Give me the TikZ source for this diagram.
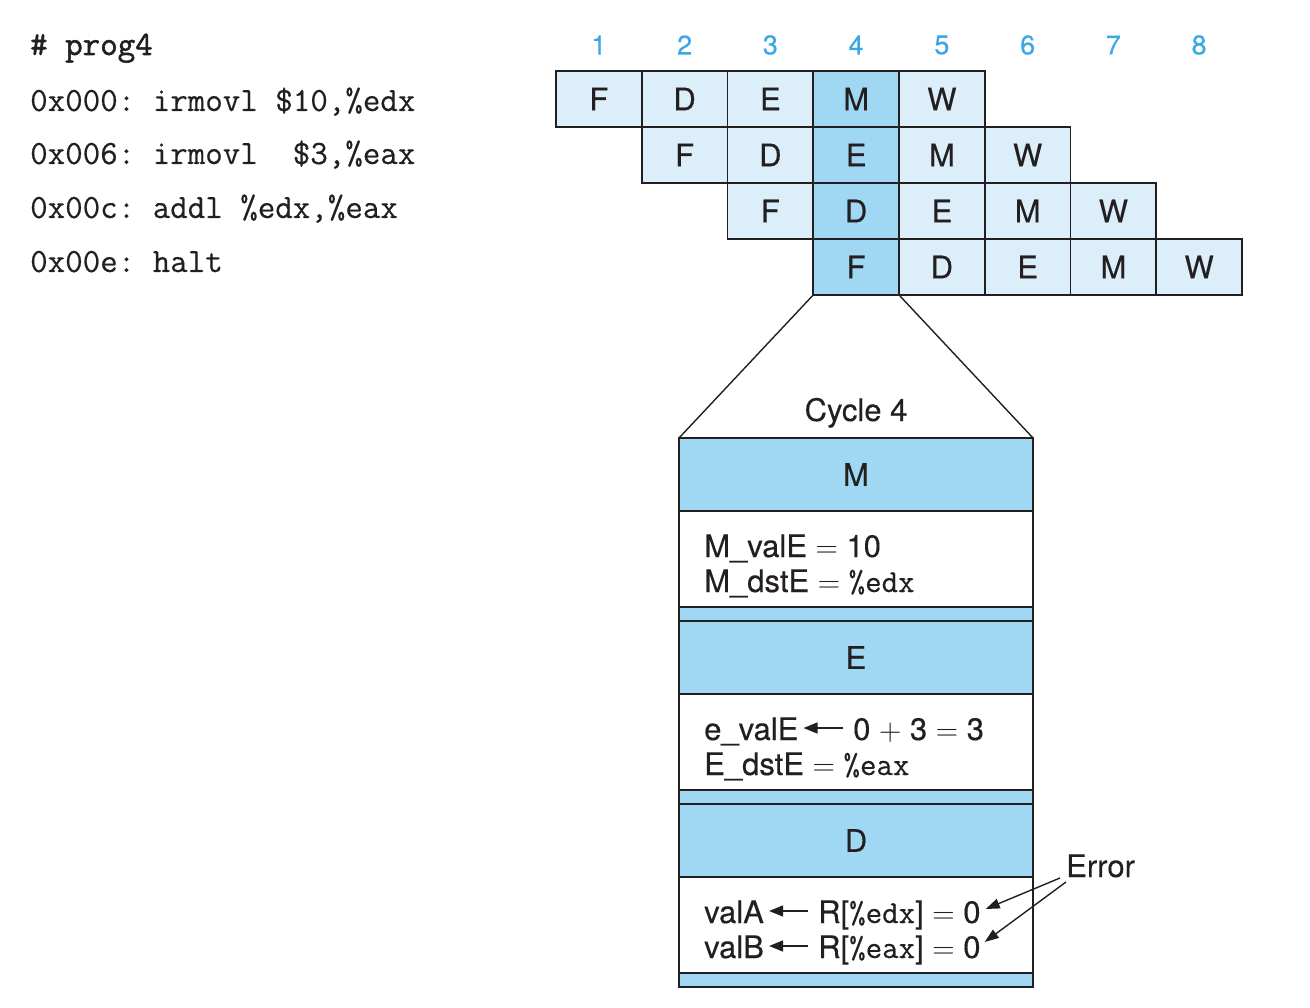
\RequirePackage{fix-cm}
\documentclass[tikz,border=0pt]{standalone}
\usepackage{fontspec}
\setsansfont{TeX Gyre Heros}[FakeBold=0.3]
\newfontfamily\codefont{Latin Modern Mono}[FakeBold=0.4]
\newfontfamily\codebold{Latin Modern Mono}[FakeBold=1.6]
\newfontfamily\regfont{Latin Modern Mono}[FakeBold=0.4]
\usetikzlibrary{arrows.meta,calc}

\definecolor{stagelight}{HTML}{DBEEFA}
\definecolor{stagedark}{HTML}{A0D8F3}
\definecolor{cyclenum}{HTML}{3BA8E5}
\definecolor{ink}{HTML}{231F20}

% register names inside the stage boxes
\newcommand{\regname}[1]{{\regfont\fontsize{32}{37}\selectfont\%#1}}

\tikzset{
  sans/.style={font=\sffamily\fontsize{31}{37}\selectfont, text=ink},
  codeline/.style={font=\codefont\fontsize{34}{40}\selectfont, text=ink, anchor=base west, inner sep=0pt},
  cyclenumber/.style={font=\sffamily\fontsize{27}{32}\selectfont, text=cyclenum, inner sep=0pt},
  cell/.style={sans, draw=ink, line width=1.8pt, minimum width=85.75pt, minimum height=56pt, inner sep=0pt},
  sect/.style={sans, draw=ink, line width=1.8pt, minimum width=354pt, inner sep=0pt, outer sep=0pt, anchor=north},
  stagehdr/.style={sect, fill=stagedark, minimum height=73pt},
  stagebody/.style={sect, fill=white, minimum height=96pt},
  stagestrip/.style={sect, fill=stagedark, minimum height=14pt},
  bodytext/.style={sans, anchor=base west, inner sep=0pt},
  getsarrow/.style={draw=ink, line width=1.6pt, -{Triangle[length=14pt,width=11pt]}},
  errarrow/.style={draw=ink, line width=1.4pt, -{Triangle[length=14pt,width=10pt]}},
  funnel/.style={draw=ink, line width=1.4pt}
}

\begin{document}
\begin{tikzpicture}[x=1pt,y=-1pt]
\useasboundingbox (0,0) rectangle (1310,1008);

% program listing
\node[codeline] (title) at (30,55) {{\codebold\# prog4}};
\node[codeline] (ins1) at (30,111) {0x000:\ irmovl\ \$10,\%edx};
\node[codeline] (ins2) at (30,164) {0x006:\ irmovl\ \ \$3,\%eax};
\node[codeline] (ins3) at (30,218) {0x00c:\ addl\ \%edx,\%eax};
\node[codeline] (ins4) at (30,272) {0x00e:\ halt};

% cycle numbers
\foreach \c in {1,...,8}
  \node[cyclenumber] (n\c) at ({556+85.75*(\c-0.5)},45) {\c};

% pipeline diagram
\foreach \r in {1,...,4}{
  \foreach \s [count=\k] in {F,D,E,M,W}{
    \pgfmathtruncatemacro{\c}{\r+\k-1}
    \ifnum\c=4 \def\cf{stagedark}\else\def\cf{stagelight}\fi
    \node[cell, fill=\cf] (c-\r-\c) at ({556+85.75*(\c-0.5)},{71+56*(\r-0.5)}) {\s};
  }
}

% detail of cycle 4
\node[stagehdr] (mhdr) at (856,438) {M};
\node[stagebody] (mbody) at (mhdr.south) {};
\node[stagestrip] (mstrip) at (mbody.south) {};
\node[stagehdr] (ehdr) at (mstrip.south) {E};
\node[stagebody] (ebody) at (ehdr.south) {};
\node[stagestrip] (estrip) at (ebody.south) {};
\node[stagehdr] (dhdr) at (estrip.south) {D};
\node[stagebody] (dbody) at (dhdr.south) {};
\node[stagestrip] (dstrip) at (dbody.south) {};

\node[sans, anchor=base] (cyc) at (856,421) {Cycle 4};
\draw[funnel] (c-4-4.south west) -- (mhdr.north west);
\draw[funnel] (c-4-4.south east) -- (mhdr.north east);

% memory stage
\node[bodytext] (mv) at (704,557) {M\_valE $=$ 10};
\node[bodytext] (md) at (704,592) {M\_dstE $=$ \regname{edx}};

% execute stage
\node[bodytext] (evl) at (704,740) {e\_valE};
\node[bodytext] (evr) at (853,740) {0 $+$ 3 $=$ 3};
\node[bodytext] (ed) at (704,775) {E\_dstE $=$ \regname{eax}};
\draw[getsarrow] ($(evr.base west)+(-10,-12)$) -- ($(evl.base east)+(5,-12)$);

% decode stage
\node[bodytext] (dal) at (704,923) {valA};
\node[bodytext] (dar) at (818,923) {R[\regname{edx}] $=$ 0};
\node[bodytext] (dbl) at (704,958) {valB};
\node[bodytext] (dbr) at (818,958) {R[\regname{eax}] $=$ 0};
\draw[getsarrow] ($(dar.base west)+(-10,-12)$) -- ($(dal.base east)+(5,-12)$);
\draw[getsarrow] ($(dbr.base west)+(-10,-12)$) -- ($(dbl.base east)+(5,-12)$);

% error callout
\node[bodytext] (err) at (1066,877) {Error};
\draw[errarrow] ($(err.base west)+(-6,1)$) -- ($(dar.base east)+(5,-14)$);
\draw[errarrow] ($(err.base west)+(0,5)$) -- ($(dbr.base east)+(4,-16)$);
\end{tikzpicture}
\end{document}
